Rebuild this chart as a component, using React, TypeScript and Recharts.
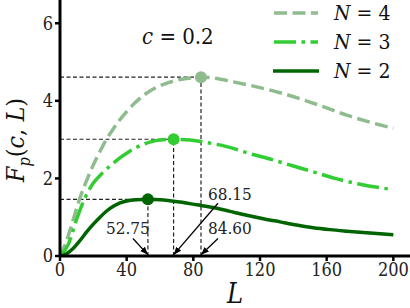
import { LineChart, Line, XAxis, YAxis, ReferenceLine, ReferenceDot } from "recharts";

// curves, [L, Fp]
const n2 = [
  [0, 0], [4, 0.06], [8, 0.2], [12, 0.4], [16, 0.62], [20, 0.82], [24, 1.0], [28, 1.16],
  [32, 1.28], [36, 1.37], [40, 1.42], [46, 1.45], [52.75, 1.46], [60, 1.45], [72, 1.39],
  [82, 1.32], [92, 1.25], [102, 1.15], [112, 1.05], [122, 0.96], [132, 0.88], [142, 0.8],
  [152, 0.73], [162, 0.68], [172, 0.64], [186, 0.59], [200, 0.55],
];
const n3 = [
  [0, 0], [5, 0.3], [10, 0.95], [15, 1.5], [20, 1.88], [25, 2.12], [30, 2.32], [35, 2.5],
  [40, 2.65], [45, 2.78], [50, 2.88], [55, 2.95], [60, 2.99], [68.15, 3.01], [78, 2.99],
  [90, 2.91], [100, 2.82], [113, 2.65], [126, 2.5], [140, 2.32], [152, 2.17], [165, 2.0],
  [180, 1.85], [200, 1.71],
];
const n4 = [
  [0, 0], [4, 0.4], [8, 0.95], [12, 1.5], [16, 1.95], [20, 2.35], [24, 2.7],
  [28, 3.02], [32, 3.28], [36, 3.52], [40, 3.72], [45, 3.95], [51, 4.17], [58, 4.35],
  [65, 4.47], [72, 4.55], [78, 4.59], [84.6, 4.61], [92, 4.59], [104, 4.49], [118, 4.36],
  [132, 4.21], [145, 4.04], [158, 3.85], [172, 3.63], [186, 3.45], [200, 3.29],
];

const xTicks = [0, 40, 80, 120, 160, 200];
const yTicks = [0, 2, 4, 6];

// peaks: L*, Fp(L*)
const peaks = [
  { n: 2, L: 52.75, F: 1.46, color: "#006400" },
  { n: 3, L: 68.15, F: 3.01, color: "#32cd32" },
  { n: 4, L: 84.6, F: 4.61, color: "#8fbc8f" },
];

// arrow tails (data coords) pointing at each L*
const arrows = [
  { from: [43.8, 0.45], to: 52.75 },
  { from: [94.8, 1.36], to: 68.15 },
  { from: [94.8, 0.45], to: 84.6 },
];

const toPts = (arr: number[][]) => arr.map(([L, F]) => ({ L, F }));

const serif = "DejaVu Serif";

const Arrow = (p: any) => (
  <line x1={p.x1} y1={p.y1} x2={p.x2} y2={p.y2} stroke="#000" strokeWidth={1.3} markerEnd="url(#arrowHead)" />
);

export default function App() {
  return (
    <div style={{ position: "relative", width: 410, height: 308, fontFamily: serif, fontStretch: "condensed" }}>
      <style>{"body{margin:0} svg text{font-stretch:condensed}"}</style>
      <LineChart width={410} height={308} margin={{ top: 0, right: 0, left: 0, bottom: 0 }}>
        <defs>
          <marker id="arrowHead" viewBox="0 0 10 10" refX="10" refY="5" markerWidth="8" markerHeight="8" orient="auto" markerUnits="userSpaceOnUse">
            <path d="M0,1 L10,5 L0,9 z" fill="#000" />
          </marker>
        </defs>
        <XAxis
          type="number"
          dataKey="L"
          domain={[0, 210]}
          ticks={xTicks}
          height={52}
          allowDataOverflow
          axisLine={{ stroke: "#000", strokeWidth: 3 }}
          tickLine={{ stroke: "#000", strokeWidth: 2.5 }}
          tickSize={5}
          tick={{ fill: "#222", fontSize: 18, fontFamily: serif }}
        />
        <YAxis
          type="number"
          dataKey="F"
          domain={[0, 6.6]}
          ticks={yTicks}
          width={60}
          allowDataOverflow
          axisLine={{ stroke: "#000", strokeWidth: 3 }}
          tickLine={{ stroke: "#000", strokeWidth: 2.5 }}
          tickSize={5}
          tick={{ fill: "#222", fontSize: 18, fontFamily: serif }}
        />
        {peaks.map((p) => (
          <ReferenceLine
            key={"h" + p.n}
            segment={[{ x: 0, y: p.F }, { x: p.L, y: p.F }]}
            stroke="#222"
            strokeWidth={1.2}
            strokeDasharray="4 2.5"
          />
        ))}
        {peaks.map((p) => (
          <ReferenceLine
            key={"v" + p.n}
            segment={[{ x: p.L, y: 0 }, { x: p.L, y: p.F }]}
            stroke="#222"
            strokeWidth={1.2}
            strokeDasharray="4 2.5"
          />
        ))}
        <Line data={toPts(n4)} dataKey="F" type="monotone" stroke="#8fbc8f" strokeWidth={3.5} strokeDasharray="13 5.5" dot={false} isAnimationActive={false} />
        <Line data={toPts(n3)} dataKey="F" type="monotone" stroke="#32cd32" strokeWidth={3.5} strokeDasharray="22 5.5 3.5 5.5" dot={false} isAnimationActive={false} />
        <Line data={toPts(n2)} dataKey="F" type="monotone" stroke="#006400" strokeWidth={3.5} dot={false} isAnimationActive={false} />
        {peaks.map((p) => (
          <ReferenceDot key={"d" + p.n} x={p.L} y={p.F} r={6} fill={p.color} stroke="none" />
        ))}
        {arrows.map((a, i) => (
          <ReferenceLine key={"a" + i} segment={[{ x: a.from[0], y: a.from[1] }, { x: a.to, y: 0.03 }]} shape={Arrow} />
        ))}
      </LineChart>

      {/* axis labels */}
      <div
        style={{
          position: "absolute",
          left: 18,
          top: 140,
          transform: "translate(-50%,-50%) rotate(-90deg)",
          fontSize: 25,
          whiteSpace: "nowrap",
          color: "#111",
          lineHeight: 1,
        }}
      >
        <i>F</i>
        <sub style={{ fontSize: 16, fontStyle: "italic" }}>p</sub>
        (<i>c</i>, <i>L</i>)
      </div>
      <div style={{ position: "absolute", left: 235, top: 293, transform: "translate(-50%,-50%)", fontSize: 27, fontStyle: "italic", color: "#111", lineHeight: 1 }}>L</div>

      <div style={{ position: "absolute", left: 142, top: 37, transform: "translateY(-50%)", fontSize: 22, color: "#111", whiteSpace: "nowrap", lineHeight: 1 }}>
        <i>c</i> = 0.2
      </div>

      {/* annotations */}
      <div style={{ position: "absolute", left: 106, top: 228, transform: "translateY(-50%)", fontSize: 17, color: "#222", lineHeight: 1 }}>52.75</div>
      <div style={{ position: "absolute", left: 208, top: 194, transform: "translateY(-50%)", fontSize: 17, color: "#222", lineHeight: 1 }}>68.15</div>
      <div style={{ position: "absolute", left: 208, top: 228, transform: "translateY(-50%)", fontSize: 17, color: "#222", lineHeight: 1 }}>84.60</div>

      {/* legend */}
      <svg width={410} height={308} style={{ position: "absolute", left: 0, top: 0, pointerEvents: "none" }}>
        <line x1={274} x2={318} y1={13} y2={13} stroke="#8fbc8f" strokeWidth={3.5} strokeDasharray="13 5.5" />
        <line x1={274} x2={318} y1={42} y2={42} stroke="#32cd32" strokeWidth={3.5} strokeDasharray="22 5.5 3.5 5.5" />
        <line x1={273} x2={319} y1={71} y2={71} stroke="#006400" strokeWidth={3.5} />
        {["4", "3", "2"].map((n, i) => (
          <text key={n} x={334} y={13 + i * 29} dy="0.35em" fontSize={21} fontFamily={serif} fill="#111">
            <tspan fontStyle="italic">N</tspan> = {n}
          </text>
        ))}
      </svg>
    </div>
  );
}
